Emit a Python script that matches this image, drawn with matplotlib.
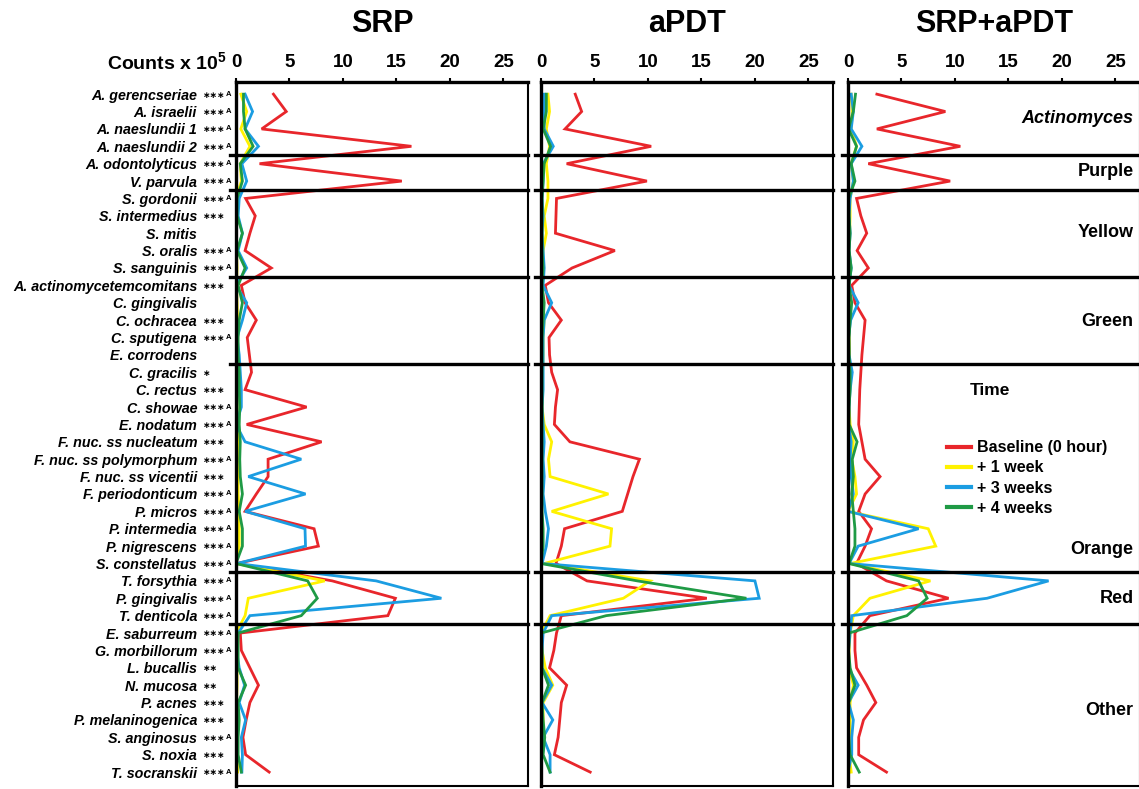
import matplotlib
matplotlib.use("Agg")
import matplotlib.pyplot as plt
import matplotlib.transforms as mtransforms
from matplotlib.lines import Line2D

plt.rcParams['font.family'] = ['Liberation Sans', 'DejaVu Sans']
plt.rcParams['mathtext.fontset'] = 'custom'
plt.rcParams['mathtext.bf'] = 'Liberation Sans:bold'

species = [
    "A. gerencseriae", "A. israelii", "A. naeslundii 1", "A. naeslundii 2",
    "A. odontolyticus", "V. parvula", "S. gordonii", "S. intermedius",
    "S. mitis", "S. oralis", "S. sanguinis", "A. actinomycetemcomitans",
    "C. gingivalis", "C. ochracea", "C. sputigena", "E. corrodens",
    "C. gracilis", "C. rectus", "C. showae", "E. nodatum",
    "F. nuc. ss nucleatum", "F. nuc. ss polymorphum", "F. nuc. ss vicentii",
    "F. periodonticum", "P. micros", "P. intermedia", "P. nigrescens",
    "S. constellatus", "T. forsythia", "P. gingivalis", "T. denticola",
    "E. saburreum", "G. morbillorum", "L. bucallis", "N. mucosa",
    "P. acnes", "P. melaninogenica", "S. anginosus", "S. noxia", "T. socranskii",
]
stars = [
    "***A", "***A", "***A", "***A", "***A", "***A", "***A", "***", "",
    "***A", "***A", "***", "", "***", "***A", "", "*", "***", "***A", "***A",
    "***", "***A", "***", "***A", "***A", "***A", "***A", "***A", "***A",
    "***A", "***A", "***A", "***A", "**", "**", "***", "***", "***A", "***", "***A",
]

# group boundaries (after these row indices) and labels
boundaries = [3.5, 5.5, 10.5, 15.5, 27.5, 30.5]
groups = ["Actinomyces", "Purple", "Yellow", "Green", "Orange", "Red", "Other"]
group_rows = [1.38, 4.43, 7.94, 13.06, 26.17, 28.99, 35.43]

panels = ["SRP", "aPDT", "SRP+aPDT"]
times = ["Baseline (0 hour)", "+ 1 week", "+ 3 weeks", "+ 4 weeks"]
colors = ["#e8262b", "#fff200", "#1b9de2", "#1f9a45"]

# counts x 10^5, one list of 40 values per time point
srp_base = [3.5, 4.7, 2.4, 16.4, 2.2, 15.5, 0.9, 1.8, 1.3, 0.85, 3.3, 0.5,
            0.85, 1.9, 1.05, 1.25, 1.45, 0.85, 6.6, 1.0, 8.0, 3.0, 3.0, 1.9,
            0.85, 7.3, 7.7, 0.05, 9.0, 14.9, 14.2, 0.4, 0.5, 1.3, 2.1, 1.3,
            0.95, 0.65, 0.9, 3.1]
srp_1w = [0.45, 1.0, 0.45, 1.3, 0.4, 0.5, 0.0, 0.05, 0.05, 0.05, 0.1, 0.05,
          0.1, 0.15, 0.1, 0.1, 0.15, 0.1, 0.1, 0.1, 0.2, 0.3, 0.2, 0.2,
          0.3, 0.3, 0.3, 0.0, 8.3, 1.15, 0.85, 0.0, 0.05, 0.1, 0.1, 0.05,
          0.1, 0.1, 0.1, 0.15]
srp_3w = [0.85, 1.55, 0.85, 2.1, 0.55, 1.0, 0.3, 0.2, 0.6, 0.2, 1.0, 0.0,
          1.0, 0.6, 0.1, 0.3, 0.4, 0.5, 0.5, 0.0, 0.85, 6.1, 1.15, 6.5,
          0.85, 6.45, 6.5, 0.1, 13.1, 19.2, 1.3, 0.2, 0.05, 0.3, 0.8, 0.3,
          0.9, 0.5, 0.6, 0.55]
srp_4w = [0.7, 0.7, 0.85, 1.6, 0.4, 0.6, 0.1, 0.1, 0.6, 0.1, 0.85, 0.2,
          0.6, 0.3, 0.2, 0.2, 0.3, 0.3, 0.35, 0.3, 0.4, 0.35, 0.4, 0.6,
          0.3, 0.6, 0.6, 0.0, 6.7, 7.6, 6.1, 0.2, 0.2, 0.2, 0.9, 0.2,
          0.3, 0.2, 0.2, 0.5]

apdt_base = [3.2, 3.8, 2.25, 10.3, 2.4, 9.9, 1.45, 1.4, 1.35, 6.9, 2.9, 0.4,
             0.7, 1.9, 0.75, 0.8, 1.0, 1.55, 1.35, 1.25, 2.7, 9.2, 8.6, 8.1,
             7.6, 2.2, 1.9, 1.4, 4.3, 15.5, 1.9, 1.45, 1.2, 0.8, 2.4, 1.9,
             1.75, 1.6, 1.25, 4.6]
apdt_1w = [0.65, 0.8, 0.5, 0.8, 0.5, 0.65, 0.65, 0.3, 0.5, 0.2, 0.1, 0.1,
           0.2, 0.3, 0.2, 0.2, 0.15, 0.1, 0.1, 0.3, 1.0, 0.7, 0.85, 6.3,
           1.0, 6.6, 6.45, 0.3, 10.2, 7.7, 0.85, 0.0, 0.1, 0.4, 1.1, 0.2,
           0.2, 0.2, 0.05, 0.05]
apdt_3w = [0.3, 0.3, 0.3, 1.15, 0.2, 0.2, 0.1, 0.2, 0.1, 0.2, 0.3, 0.2,
           1.0, 0.3, 0.2, 0.2, 0.2, 0.2, 0.1, 0.2, 0.3, 0.2, 0.3, 0.2,
           0.4, 0.7, 0.5, 0.1, 20.0, 20.4, 1.0, 0.2, 0.1, 0.1, 1.0, 0.1,
           1.1, 0.2, 0.85, 0.85]
apdt_4w = [0.5, 0.5, 0.2, 0.9, 0.3, 0.2, 0.1, 0.1, 0.1, 0.1, 0.2, 0.1,
           0.3, 0.2, 0.1, 0.1, 0.1, 0.1, 0.1, 0.1, 0.1, 0.1, 0.1, 0.1,
           0.1, 0.2, 0.2, 0.0, 9.0, 19.2, 6.1, 0.0, 0.1, 0.1, 0.7, 0.1,
           0.2, 0.35, 0.2, 0.85]

combo_base = [2.7, 9.1, 2.7, 10.5, 1.9, 9.55, 0.8, 1.2, 1.75, 0.85, 1.9, 0.35,
              0.65, 1.6, 1.45, 1.3, 1.2, 1.1, 1.05, 1.0, 1.3, 1.6, 3.0, 1.6,
              1.0, 2.2, 1.6, 0.8, 3.6, 9.4, 2.05, 0.65, 0.65, 0.8, 1.75, 2.6,
              1.45, 1.0, 1.0, 3.6]
combo_1w = [0.3, 0.4, 0.3, 0.8, 0.3, 0.5, 0.2, 0.2, 0.15, 0.1, 0.2, 0.1,
            0.25, 0.1, 0.1, 0.15, 0.1, 0.1, 0.1, 0.2, 0.5, 0.35, 0.65, 0.8,
            0.0, 7.5, 8.2, 0.2, 7.7, 2.05, 0.5, 0.2, 0.1, 0.1, 0.5, 0.2,
            0.2, 0.2, 0.1, 0.3]
combo_3w = [0.3, 0.5, 0.3, 1.3, 0.3, 0.5, 0.2, 0.1, 0.2, 0.1, 0.3, 0.1,
            0.95, 0.25, 0.05, 0.1, 0.4, 0.2, 0.1, 0.05, 0.3, 0.2, 0.3, 0.5,
            0.0, 6.6, 0.95, 0.1, 18.75, 13.0, 0.35, 0.2, 0.05, 0.05, 0.95, 0.05,
            0.5, 0.35, 0.35, 0.0]
combo_4w = [0.7, 0.5, 0.05, 0.8, 0.3, 0.65, 0.05, 0.1, 0.2, 0.1, 0.3, 0.1,
            0.35, 0.2, 0.1, 0.1, 0.2, 0.2, 0.1, 0.1, 0.85, 0.4, 0.5, 0.35,
            0.5, 0.65, 0.65, 0.1, 6.6, 7.4, 5.5, 0.1, 0.05, 0.2, 0.65, 0.05,
            0.05, 0.05, 0.2, 1.05]

data = [
    [srp_base, srp_1w, srp_3w, srp_4w],
    [apdt_base, apdt_1w, apdt_3w, apdt_4w],
    [combo_base, combo_1w, combo_3w, combo_4w],
]

W, H = 1139, 789
fig = plt.figure(figsize=(W / 100, H / 100), dpi=100)

rows = list(range(len(species)))
lefts = [236, 541, 848]
axes = []
for k, left in enumerate(lefts):
    ax = fig.add_axes([left / W, 3 / H, 292 / W, (786 - 82) / H])
    axes.append(ax)
    for series, c in zip(data[k], colors):
        ax.plot(series, rows, color=c, lw=2.0, solid_joinstyle='miter')
    for b in boundaries:
        ax.axhline(b, xmin=-0.02, xmax=1.0, color='black', lw=2.4, clip_on=False, zorder=5)
    ax.set_xlim(0, 27.3)
    ax.set_ylim(39.8, -0.7)
    ax.xaxis.tick_top()
    ax.set_xticks([0, 5, 10, 15, 20, 25])
    ax.tick_params(axis='x', length=3, width=1.5, pad=5, labelsize=13.5)
    for lab in ax.get_xticklabels():
        lab.set_fontweight('bold')
    ax.spines['top'].set_linewidth(2.4)
    ax.spines['left'].set_linewidth(2.4)
    ax.spines['right'].set_linewidth(1.5)
    ax.spines['bottom'].set_linewidth(1.5)
    ax.set_title(panels[k], fontsize=22, fontweight='bold', pad=36)
    if k == 0:
        ax.set_yticks(rows)
        ax.set_yticklabels(species, fontsize=10.3, fontweight='bold', fontstyle='italic')
        ax.tick_params(axis='y', length=0, pad=28)
        trans = mtransforms.blended_transform_factory(ax.transAxes, ax.transData)
        for i, s in enumerate(stars):
            n = s.count('*')
            if not n:
                continue
            t = ax.text(-0.113, i + 0.05, "\u2217" * n, transform=trans, fontsize=6.5,
                        fontweight='bold', family='DejaVu Sans', ha='left', va='center')
            if s.endswith('A'):
                ax.annotate("A", xy=(1, 0.6), xycoords=t, xytext=(0.3, 0),
                            textcoords='offset points', fontsize=5.5, fontweight='bold',
                            ha='left', va='center')
        ax.text(-0.03, 1.027, r"Counts x 10$^{\mathbf{5}}$", transform=ax.transAxes,
                fontsize=14, fontweight='bold', ha='right', va='center')
    else:
        ax.set_yticks([])

ax3 = axes[2]
for g, r in zip(groups, group_rows):
    ax3.text(26.7, r, g, fontsize=13, fontweight='bold', ha='right', va='center',
             fontstyle='italic' if g == "Actinomyces" else 'normal')
ax3.text(13.3, 17.03, "Time", fontsize=12.5, fontweight='bold', ha='center', va='center')

handles = [Line2D([0], [0], color=c, lw=3) for c in colors]
ax3.legend(handles, times, loc='upper left', bbox_to_anchor=(0.317, 0.5), frameon=False,
           prop={'weight': 'bold', 'size': 11.5}, handlelength=1.5, handletextpad=0.35,
           labelspacing=0.32, borderaxespad=0)

fig.savefig("out.png", dpi=100)
